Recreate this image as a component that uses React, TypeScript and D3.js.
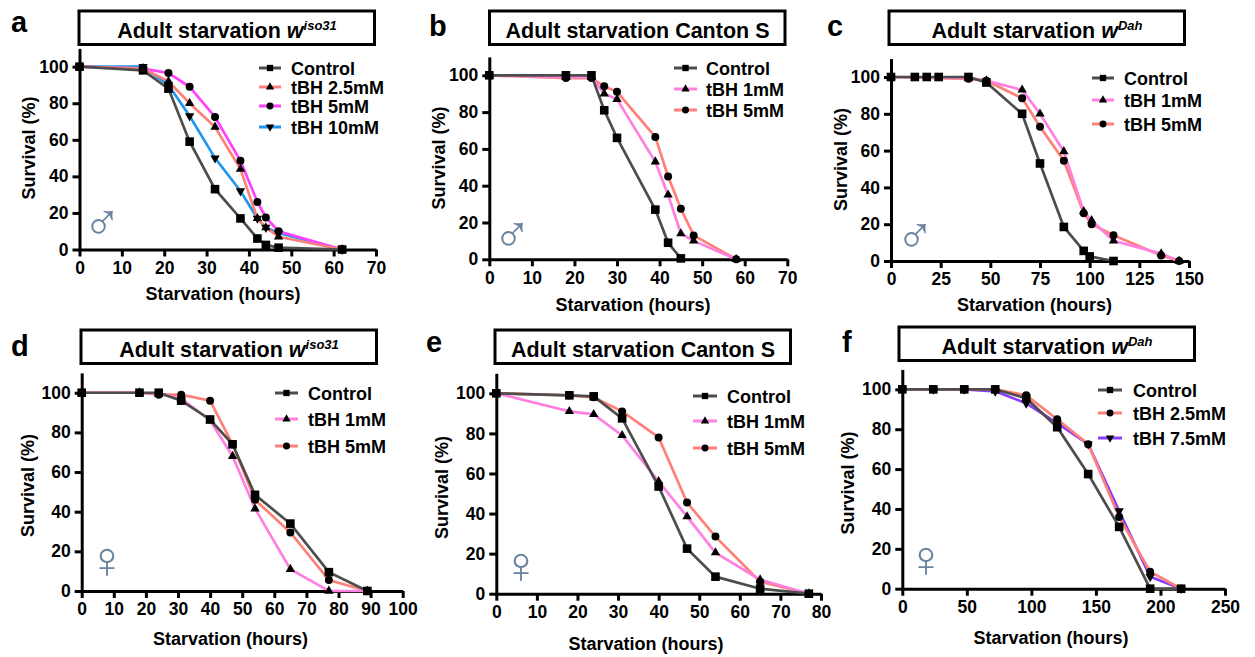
import { useEffect, useRef } from 'react';
import * as d3 from 'd3';

const yTicks = [0, 20, 40, 60, 80, 100];

// panel a
const aHours = [0, 15, 21, 26, 32, 38, 42, 44, 47, 62];
const aControl = [100, 98, 88, 59, 33, 17, 6, 2.5, 1, 0];
const aTbh25 = [100, 99, 92, 80, 67, 44, 17, 12, 7, 0];
const aTbh5 = [100, 99, 96.5, 89, 72.5, 48.5, 26, 17.5, 10, 0];
const aTbh10 = [100, 100, 90, 73, 50, 32, 17, 12, 9, 0];

// panel b
const bHoursControl = [0, 18, 24, 27, 30, 39, 42, 45];
const bHours = [0, 18, 24, 27, 30, 39, 42, 45, 48, 58];
const bControl = [100, 100, 100, 81, 66, 27, 9, 0.5];
const bTbh1 = [100, 99, 99, 90, 87, 53, 35, 14, 10, 0];
const bTbh5 = [100, 98.5, 98.5, 94, 91, 66.5, 45, 27.5, 13, 0];

// panel c
const cHoursControl = [0, 12, 18, 24, 39, 48, 66, 75, 87, 97, 100, 112];
const cHours = [0, 39, 48, 66, 75, 87, 97, 101, 112, 136, 145];
const cControl = [100, 100, 100, 100, 100, 97, 80, 53, 18.5, 5.5, 2.5, 0];
const cTbh1 = [100, 99.5, 98, 93, 80, 59.5, 27, 22, 11, 4, 0];
const cTbh5 = [100, 99, 98, 88.5, 73, 54.5, 26, 20, 14, 3, 0];

// panel d
const dHours = [0, 18, 24, 31, 40, 47, 54, 65, 77, 89];
const dControl = [100, 100, 100, 96, 86.5, 74, 48.5, 34, 9.5, 0];
const dTbh1 = [100, 100, 99.5, 97, 86, 68, 41.5, 11, 0, 0];
const dTbh5 = [100, 100, 99, 99, 96, 74, 46, 29.5, 5.5, 0];

// panel e
const eHours = [0, 18, 24, 31, 40, 47, 54, 65, 77];
const eControl = [100, 99, 98.5, 87.5, 53.5, 22.5, 8.5, 2.5, 0];
const eTbh1 = [100, 91, 89.5, 79, 56, 38.5, 20.5, 7, 0];
const eTbh5 = [100, 99, 98, 91, 78, 45.5, 28.5, 6, 0];

// panel f
const fHours = [0, 24, 48, 72, 96, 120, 144, 168, 192, 216];
const fControl = [100, 100, 100, 100, 95.5, 81, 57.5, 31, 0, 0];
const fTbh25 = [100, 100, 100, 100, 97, 85, 72.5, 36, 8.5, 0];
const fTbh75 = [100, 100, 100, 99, 93, 83, 72.5, 39, 6, 0];

const GREY = '#4d4d4d';
const SALMON = '#ff8078';
const PINK = '#ff80e0';
const MAGENTA = '#ff40ff';
const BLUE = '#1f96f0';
const PURPLE = '#8a3cff';

const FONT = '"Liberation Sans", Arial, sans-serif';

const panels = [
  {
    letter: 'a', letterAt: [11, 32], sex: '♂', sexAt: [102, 240],
    plot: [79.5, 376, 249.5, 48.4], xMax: 70, xStep: 10,
    box: [79, 11], title: 'Adult starvation ', italic: 'w', sup: 'iso31',
    xLabel: [223, 300], yLabel: [35, 148],
    legend: [259, 281, 291], legendRows: [68, 87, 106, 127],
    series: [
      { name: 'Control', marker: 'square', color: GREY, x: aHours, y: aControl },
      { name: 'tBH 2.5mM', marker: 'triangle', color: SALMON, x: aHours, y: aTbh25 },
      { name: 'tBH 5mM', marker: 'circle', color: MAGENTA, x: aHours, y: aTbh5 },
      { name: 'tBH 10mM', marker: 'down', color: BLUE, x: aHours, y: aTbh10 },
    ],
  },
  {
    letter: 'b', letterAt: [429, 36], sex: '♂', sexAt: [512, 252],
    plot: [489.3, 787.3, 259.3, 56.9], xMax: 70, xStep: 10,
    box: [489.5, 11], title: 'Adult starvation Canton S',
    xLabel: [633, 311], yLabel: [445, 158],
    legend: [674, 697, 706], legendRows: [68, 89, 110],
    series: [
      { name: 'Control', marker: 'square', color: GREY, x: bHoursControl, y: bControl },
      { name: 'tBH 1mM', marker: 'triangle', color: PINK, x: bHours, y: bTbh1 },
      { name: 'tBH 5mM', marker: 'circle', color: SALMON, x: bHours, y: bTbh5 },
    ],
  },
  {
    letter: 'c', letterAt: [827, 36], sex: '♂', sexAt: [915, 253],
    plot: [891, 1189, 261, 58.6], xMax: 150, xStep: 25,
    box: [889, 11], title: 'Adult starvation ', italic: 'w', sup: 'Dah',
    xLabel: [1034.5, 311], yLabel: [847, 159.5],
    legend: [1092, 1114, 1124], legendRows: [78, 100, 124],
    series: [
      { name: 'Control', marker: 'square', color: GREY, x: cHoursControl, y: cControl },
      { name: 'tBH 1mM', marker: 'triangle', color: PINK, x: cHours, y: cTbh1 },
      { name: 'tBH 5mM', marker: 'circle', color: SALMON, x: cHours, y: cTbh5 },
    ],
  },
  {
    letter: 'd', letterAt: [11, 356], sex: '♀', sexAt: [107, 578],
    plot: [81.7, 402.7, 591, 372.9], xMax: 100, xStep: 10,
    box: [81, 330], title: 'Adult starvation ', italic: 'w', sup: 'iso31',
    xLabel: [230.5, 645], yLabel: [34, 485.5],
    legend: [275, 298, 308], legendRows: [393, 419, 446],
    series: [
      { name: 'Control', marker: 'square', color: GREY, x: dHours, y: dControl },
      { name: 'tBH 1mM', marker: 'triangle', color: PINK, x: dHours, y: dTbh1 },
      { name: 'tBH 5mM', marker: 'circle', color: SALMON, x: dHours, y: dTbh5 },
    ],
  },
  {
    letter: 'e', letterAt: [426, 352], sex: '♀', sexAt: [521, 583],
    plot: [496.3, 821, 593.7, 373.3], xMax: 80, xStep: 10,
    box: [495, 330], title: 'Adult starvation Canton S',
    xLabel: [646, 650], yLabel: [448, 487.5],
    legend: [693, 717, 727], legendRows: [396, 421, 448],
    series: [
      { name: 'Control', marker: 'square', color: GREY, x: eHours, y: eControl },
      { name: 'tBH 1mM', marker: 'triangle', color: PINK, x: eHours, y: eTbh1 },
      { name: 'tBH 5mM', marker: 'circle', color: SALMON, x: eHours, y: eTbh5 },
    ],
  },
  {
    letter: 'f', letterAt: [842, 352], sex: '♀', sexAt: [926, 577],
    plot: [902.3, 1225, 588.7, 369.4], xMax: 250, xStep: 50,
    box: [899, 327], title: 'Adult starvation ', italic: 'w', sup: 'Dah',
    xLabel: [1051, 644], yLabel: [854, 483],
    legend: [1098, 1122, 1133], legendRows: [390, 413, 438],
    series: [
      { name: 'Control', marker: 'square', color: GREY, x: fHours, y: fControl },
      { name: 'tBH 2.5mM', marker: 'circle', color: SALMON, x: fHours, y: fTbh25 },
      { name: 'tBH 7.5mM', marker: 'down', color: PURPLE, x: fHours, y: fTbh75 },
    ],
  },
];

function markerPath(kind, big) {
  const sizes = big
    ? { square: 74, triangle: 38, down: 38, circle: 50 }
    : { square: 40, triangle: 30, down: 30, circle: 38 };
  const types = { square: d3.symbolSquare, triangle: d3.symbolTriangle, down: d3.symbolTriangle, circle: d3.symbolCircle };
  return d3.symbol().type(types[kind]).size(sizes[kind])();
}

function drawMarker(g, kind, x, y, big) {
  g.append('path')
    .attr('d', markerPath(kind, big))
    .attr('transform', `translate(${x},${y})${kind === 'down' ? ' rotate(180)' : ''}`)
    .attr('fill', '#000');
}

export default function App() {
  const svgRef = useRef(null);

  useEffect(() => {
    const svg = d3.select(svgRef.current);
    svg.selectAll('*').remove();

    panels.forEach(p => {
      const [left, right, bottom, top] = p.plot;
      const g = svg.append('g').attr('font-family', FONT);

      // Panel letter
      g.append('text')
        .attr('x', p.letterAt[0]).attr('y', p.letterAt[1])
        .attr('font-size', 29).attr('font-weight', 700)
        .text(p.letter);

      // Title box
      g.append('rect')
        .attr('x', p.box[0]).attr('y', p.box[1])
        .attr('width', 295.5).attr('height', 33.5)
        .attr('fill', '#fff').attr('stroke', '#000').attr('stroke-width', 3);

      const title = g.append('text')
        .attr('x', p.box[0] + 148).attr('y', p.box[1] + 27)
        .attr('text-anchor', 'middle')
        .attr('font-size', 21.5).attr('font-weight', 700)
        .style('white-space', 'pre');
      title.append('tspan').text(p.title);
      if (p.italic) {
        title.append('tspan').attr('font-style', 'italic').text(p.italic);
        title.append('tspan')
          .attr('font-style', 'italic').attr('font-size', 13).attr('dy', -8)
          .text(p.sup);
      }

      const x = d3.scaleLinear().domain([0, p.xMax]).range([left, right]);
      const y = d3.scaleLinear().domain([0, 110]).range([bottom, top]);

      // Axes
      const xAxis = g.append('g')
        .attr('transform', `translate(0,${bottom})`)
        .call(d3.axisBottom(x).tickValues(d3.range(0, p.xMax + 1, p.xStep)).tickSize(7).tickSizeOuter(0).tickPadding(5));
      const yAxis = g.append('g')
        .attr('transform', `translate(${left},0)`)
        .call(d3.axisLeft(y).tickValues(yTicks).tickSize(7).tickSizeOuter(0).tickPadding(4));

      [xAxis, yAxis].forEach(axis => {
        axis.attr('font-family', FONT).attr('font-size', 17.5).attr('font-weight', 700);
        axis.selectAll('line').attr('stroke', '#000').attr('stroke-width', 3);
        axis.select('.domain').attr('stroke', '#000').attr('stroke-width', 3);
        axis.selectAll('text').attr('fill', '#000');
      });

      g.append('text')
        .attr('x', p.xLabel[0]).attr('y', p.xLabel[1])
        .attr('text-anchor', 'middle')
        .attr('font-size', 18).attr('font-weight', 700)
        .text('Starvation (hours)');

      g.append('text')
        .attr('transform', `translate(${p.yLabel[0]},${p.yLabel[1]}) rotate(-90)`)
        .attr('text-anchor', 'middle')
        .attr('font-size', 18).attr('font-weight', 700)
        .text('Survival (%)');

      // Sex symbol
      g.append('text')
        .attr('x', p.sexAt[0]).attr('y', p.sexAt[1])
        .attr('text-anchor', 'middle')
        .attr('font-family', '"Liberation Sans"').attr('font-size', 52)
        .attr('fill', '#6a84a0')
        .text(p.sex);

      // Lines, with Control drawn last so it sits on top
      const line = d3.line().x(d => x(d[0])).y(d => y(d[1]));
      const reversed = [...p.series].reverse();
      reversed.forEach(s => {
        g.append('path')
          .attr('d', line(s.x.map((h, i) => [h, s.y[i]])))
          .attr('fill', 'none')
          .attr('stroke', s.color)
          .attr('stroke-width', 2.7);
      });
      reversed.forEach(s => {
        s.x.forEach((h, i) => drawMarker(g, s.marker, x(h), y(s.y[i]), true));
      });

      // Legend
      const [x1, x2, tx] = p.legend;
      p.series.forEach((s, i) => {
        const ly = p.legendRows[i];
        g.append('line')
          .attr('x1', x1).attr('x2', x2).attr('y1', ly).attr('y2', ly)
          .attr('stroke', s.color).attr('stroke-width', 3);
        drawMarker(g, s.marker, (x1 + x2) / 2, ly, false);
        g.append('text')
          .attr('x', tx).attr('y', ly + 6.5)
          .attr('font-size', 18).attr('font-weight', 700)
          .text(s.name);
      });
    });
  }, []);

  return (
    <svg
      ref={svgRef}
      width={1255}
      height={657}
      style={{ position: 'absolute', left: 0, top: 0, display: 'block', background: '#fff' }}
    />
  );
}
